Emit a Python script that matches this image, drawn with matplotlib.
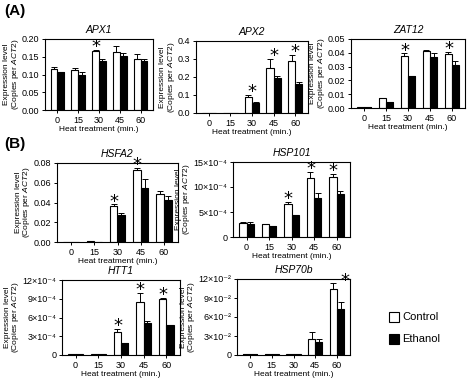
import matplotlib.pyplot as plt
import numpy as np
from matplotlib.patches import Rectangle

W, H = 474, 379

times = ['0', '15', '30', '45', '60']

# APX1
apx1_ctrl = [0.115, 0.113, 0.165, 0.163, 0.145]
apx1_ctrl_err = [0.005, 0.004, 0.005, 0.018, 0.012]
apx1_eth = [0.107, 0.098, 0.137, 0.151, 0.138]
apx1_eth_err = [0.0, 0.008, 0.007, 0.010, 0.006]
apx1_star = [2]

# APX2
apx2_ctrl = [0.0, 0.0, 0.09, 0.25, 0.29]
apx2_ctrl_err = [0.0, 0.0, 0.012, 0.05, 0.035]
apx2_eth = [0.0, 0.0, 0.055, 0.195, 0.16]
apx2_eth_err = [0.0, 0.0, 0.005, 0.012, 0.015]
apx2_star = [2, 3, 4]

# ZAT12
zat12_ctrl = [0.001, 0.007, 0.038, 0.041, 0.039]
zat12_ctrl_err = [0.0, 0.0005, 0.0015, 0.001, 0.0015]
zat12_eth = [0.001, 0.004, 0.023, 0.037, 0.031]
zat12_eth_err = [0.0, 0.0005, 0.0005, 0.003, 0.003]
zat12_star = [2, 4]

# HSFA2
hsfa2_ctrl = [0.0003, 0.001, 0.036, 0.073, 0.049]
hsfa2_ctrl_err = [0.0, 0.0003, 0.002, 0.002, 0.003]
hsfa2_eth = [0.0002, 0.0005, 0.027, 0.055, 0.043]
hsfa2_eth_err = [0.0, 0.0, 0.002, 0.009, 0.004]
hsfa2_star = [2, 3]

# HSP101 (x 1e-4)
hsp101_ctrl = [2.8, 2.6, 6.7, 11.8, 12.1]
hsp101_ctrl_err = [0.2, 0.1, 0.3, 1.2, 0.5]
hsp101_eth = [2.7, 2.3, 4.5, 7.9, 8.7]
hsp101_eth_err = [0.4, 0.0, 0.0, 1.0, 0.6]
hsp101_star = [2, 3, 4]

# HTT1 (x 1e-4)
htt1_ctrl = [0.2, 0.2, 3.7, 8.5, 9.0]
htt1_ctrl_err = [0.0, 0.0, 0.4, 1.5, 0.1]
htt1_eth = [0.2, 0.2, 2.0, 5.2, 4.8]
htt1_eth_err = [0.0, 0.0, 0.0, 0.3, 0.0]
htt1_star = [2, 3, 4]

# HSP70b (x 1e-2)
hsp70b_ctrl = [0.1, 0.1, 0.2, 2.5, 10.5]
hsp70b_ctrl_err = [0.0, 0.0, 0.0, 1.2, 0.8]
hsp70b_eth = [0.1, 0.1, 0.2, 2.1, 7.3]
hsp70b_eth_err = [0.0, 0.0, 0.0, 0.4, 1.0]
hsp70b_star = [4]

plt.rcParams['font.family'] = ['Liberation Sans', 'DejaVu Sans']
plt.rcParams['mathtext.fontset'] = 'custom'
plt.rcParams['mathtext.rm'] = 'Liberation Sans'
plt.rcParams['mathtext.it'] = 'Liberation Sans:italic'

fig = plt.figure(figsize=(W / 100, H / 100), dpi=100)


def px_axes(x0, y0, x1, y1):
    return fig.add_axes([x0 / W, 1 - y1 / H, (x1 - x0) / W, (y1 - y0) / H])


def panel(box, title, ctrl, ctrl_err, eth, eth_err, stars, ylim, yticks, ylabels,
          star_dx=-0.15):
    ax = px_axes(*box)
    x = np.arange(len(times))
    w = 0.33
    ekw = dict(elinewidth=0.7, capthick=0.7, ecolor='black')
    ax.bar(x - w / 2, ctrl, w, color='white', edgecolor='black', linewidth=0.8,
           yerr=[np.zeros(len(ctrl)), ctrl_err], capsize=2, error_kw=ekw)
    ax.bar(x + w / 2, eth, w, color='black', edgecolor='black', linewidth=0.8,
           yerr=[np.zeros(len(eth)), eth_err], capsize=2, error_kw=ekw)
    for i in stars:
        y = max(ctrl[i] + ctrl_err[i], eth[i] + eth_err[i])
        ax.annotate('*', xy=(i + star_dx, y), xytext=(0, -1.5),
                    textcoords='offset points', ha='center', va='baseline',
                    fontsize=13, family='DejaVu Sans', annotation_clip=False)
    ax.set_xlim(-0.6, 4.6)
    ax.set_ylim(*ylim)
    ax.set_yticks(yticks)
    ax.set_yticklabels(ylabels, fontsize=6.5)
    ax.set_xticks(x)
    ax.set_xticklabels(times, fontsize=6.5)
    ax.tick_params(length=2, width=0.7, pad=2)
    ax.set_title(title, fontsize=7.5, style='italic', pad=4)
    ax.set_xlabel('Heat treatment (min.)', fontsize=6, labelpad=1)
    ax.set_ylabel('Expression level\n(Copies per $\\it{ACT2}$)', fontsize=6,
                  labelpad=1, linespacing=0.95)
    for s in ax.spines.values():
        s.set_linewidth(0.8)
    return ax


panel((45, 39, 153, 110), 'APX1', apx1_ctrl, apx1_ctrl_err, apx1_eth, apx1_eth_err,
      apx1_star, (0, 0.2), [0, 0.05, 0.1, 0.15, 0.2],
      ['0.00', '0.05', '0.10', '0.15', '0.20'])
panel((196, 41, 308, 113), 'APX2', apx2_ctrl, apx2_ctrl_err, apx2_eth, apx2_eth_err,
      apx2_star, (0, 0.4), [0, 0.1, 0.2, 0.3, 0.4],
      ['0.0', '0.1', '0.2', '0.3', '0.4'], star_dx=0.0)
panel((351, 39, 465, 108), 'ZAT12', zat12_ctrl, zat12_ctrl_err, zat12_eth, zat12_eth_err,
      zat12_star, (0, 0.05), [0, 0.01, 0.02, 0.03, 0.04, 0.05],
      ['0.00', '0.01', '0.02', '0.03', '0.04', '0.05'])
panel((57, 163, 178, 242), 'HSFA2', hsfa2_ctrl, hsfa2_ctrl_err, hsfa2_eth, hsfa2_eth_err,
      hsfa2_star, (0, 0.08), [0, 0.02, 0.04, 0.06, 0.08],
      ['0.00', '0.02', '0.04', '0.06', '0.08'])
panel((233, 162, 350, 237), 'HSP101', hsp101_ctrl, hsp101_ctrl_err, hsp101_eth, hsp101_eth_err,
      hsp101_star, (0, 15), [0, 5, 10, 15],
      ['0', '5×10⁻⁴', '10×10⁻⁴', '15×10⁻⁴'])
panel((62, 280, 180, 355), 'HTT1', htt1_ctrl, htt1_ctrl_err, htt1_eth, htt1_eth_err,
      htt1_star, (0, 12), [0, 3, 6, 9, 12],
      ['0', '3×10⁻⁴', '6×10⁻⁴', '9×10⁻⁴', '12×10⁻⁴'])
panel((237, 279, 350, 355), 'HSP70b', hsp70b_ctrl, hsp70b_ctrl_err, hsp70b_eth,
      hsp70b_eth_err, hsp70b_star, (0, 12), [0, 3, 6, 9, 12],
      ['0', '3×10⁻²', '6×10⁻²', '9×10⁻²', '12×10⁻²'], star_dx=0.35)

fig.text(4 / W, 1 - 11 / H, '(A)', fontsize=11, fontweight='bold', va='center')
fig.text(4 / W, 1 - 144 / H, '(B)', fontsize=11, fontweight='bold', va='center')

# legend
for i, (lab, fc) in enumerate([('Control', 'white'), ('Ethanol', 'black')]):
    yc = 317 + i * 22
    fig.patches.append(Rectangle((389 / W, 1 - (yc + 5) / H), 10 / W, 10 / H,
                                 facecolor=fc, edgecolor='black', linewidth=0.8,
                                 transform=fig.transFigure))
    fig.text(402 / W, 1 - yc / H, lab, fontsize=8, va='center')

fig.savefig('out.png', dpi=100)
